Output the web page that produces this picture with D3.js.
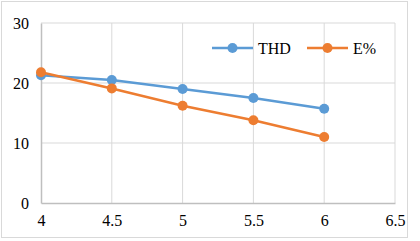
<!DOCTYPE html>
<html>
<head>
<meta charset="utf-8">
<script src="https://cdn.jsdelivr.net/npm/d3@7"></script>
<style>
  body { margin: 0; background: #fff; }
  svg text { font-family: "Liberation Serif", "Times New Roman", Times, serif !important; }
</style>
</head>
<body>
<svg id="chart" width="420" height="241"></svg>
<script>
// chart data
const xValues = [4, 4.5, 5, 5.5, 6];
const thd = [21.3, 20.5, 19.0, 17.5, 15.7];
const ePct = [21.8, 19.1, 16.2, 13.8, 11.0];
const xTicks = [4, 4.5, 5, 5.5, 6, 6.5];
const yTicks = [0, 10, 20, 30];
const seriesNames = ['THD', 'E%'];
const seriesColors = ['#5B9BD5', '#ED7D31'];

const FONT = 'Liberation Serif';

const svg = d3.select('#chart');

// outer border
svg.append('rect')
    .attr('x', 1.5).attr('y', 1.5)
    .attr('width', 406).attr('height', 236)
    .attr('fill', '#fff')
    .attr('stroke', '#d9d9d9');

const x = d3.scaleLinear().domain([4, 6.5]).range([41, 395]);
const y = d3.scaleLinear().domain([0, 30]).range([203, 23]);

// grid
const g = svg.append('g');
g.selectAll('.hgrid').data(yTicks.filter(d => d > 0)).join('line')
    .attr('x1', x(4)).attr('x2', x(6.5))
    .attr('y1', d => y(d)).attr('y2', d => y(d))
    .attr('stroke', '#d9d9d9').attr('stroke-width', 1);
g.selectAll('.vgrid').data(xTicks.filter(d => d > 4)).join('line')
    .attr('x1', d => x(d)).attr('x2', d => x(d))
    .attr('y1', y(0)).attr('y2', y(30))
    .attr('stroke', '#d9d9d9').attr('stroke-width', 1);

// axes
const xAxis = d3.axisBottom(x).tickValues(xTicks).tickSize(0).tickPadding(12)
    .tickFormat(d => d);
const yAxis = d3.axisLeft(y).tickValues(yTicks).tickSize(0).tickPadding(12);

const xg = svg.append('g').attr('transform', `translate(0,${y(0)})`).call(xAxis);
const yg = svg.append('g').attr('transform', `translate(${x(4)},0)`).call(yAxis);
[xg, yg].forEach(a => {
    a.attr('font-family', FONT).attr('font-size', 16);
    a.select('.domain').attr('stroke', '#bfbfbf').attr('stroke-width', 1.5);
    a.selectAll('text').attr('fill', '#000').style('font-family', FONT);
});

// series
const line = d3.line().x((d, i) => x(xValues[i])).y(d => y(d));
[thd, ePct].forEach((vals, s) => {
    svg.append('path')
        .datum(vals)
        .attr('d', line)
        .attr('fill', 'none')
        .attr('stroke', seriesColors[s])
        .attr('stroke-width', 2.6);
    svg.selectAll(`.pt${s}`).data(vals).join('circle')
        .attr('cx', (d, i) => x(xValues[i]))
        .attr('cy', d => y(d))
        .attr('r', 5)
        .attr('fill', seriesColors[s]);
});

// legend
const legendX = [212, 307];
seriesNames.forEach((name, i) => {
    const lg = svg.append('g').attr('transform', `translate(${legendX[i]},48)`);
    lg.append('line').attr('x1', 0).attr('x2', 41)
        .attr('stroke', seriesColors[i]).attr('stroke-width', 2.6);
    lg.append('circle').attr('cx', 20.5).attr('r', 5).attr('fill', seriesColors[i]);
    lg.append('text').attr('x', 46).attr('dy', '0.35em')
        .attr('font-size', 16).style('font-family', FONT).text(name);
});
</script>
</body>
</html>
